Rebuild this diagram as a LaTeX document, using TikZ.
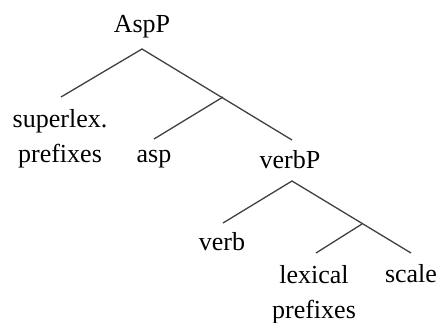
\documentclass[tikz,border=0pt]{standalone}
\usepackage{fontspec}
\setmainfont{Liberation Serif}
\begin{document}
\begin{tikzpicture}[x=1pt,y=-1pt,
  lbl/.style={font=\fontsize{26}{35}\selectfont, inner sep=0pt, anchor=base, align=center},
  branch/.style={draw=black!75, line width=1.3pt}]
\useasboundingbox (0,0) rectangle (439,322);
% labels (base anchor of a two-line label sits on its last line)
\node[lbl] (AspP)  at (142,32)  {AspP};
\node[lbl] (super) at (60,162)  {superlex.\\prefixes};
\node[lbl] (asp)   at (154,162) {asp};
\node[lbl] (verbP) at (290,168) {verbP};
\node[lbl] (verb)  at (222,250) {verb};
\node[lbl] (lex)   at (314,318) {lexical\\prefixes};
\node[lbl] (scale) at (411,282) {scale};
% branch points
\coordinate (aspTop)   at (142,49);
\coordinate (aspBar)   at (223,97);
\coordinate (verbPTop) at (292,181);
\coordinate (verbBar)  at (362,224);
% branch ends
\coordinate (superEnd) at (61,97);
\coordinate (aspEnd)   at (154,139);
\coordinate (verbPEnd) at (292,140);
\coordinate (verbEnd)  at (223,223);
\coordinate (lexEnd)   at (316,253);
\coordinate (scaleEnd) at (411,253);
% branches
\draw[branch] (superEnd) -- (aspTop) -- (verbPEnd);
\draw[branch] (aspBar) -- (aspEnd);
\draw[branch] (verbEnd) -- (verbPTop) -- (scaleEnd);
\draw[branch] (verbBar) -- (lexEnd);
\end{tikzpicture}
\end{document}
